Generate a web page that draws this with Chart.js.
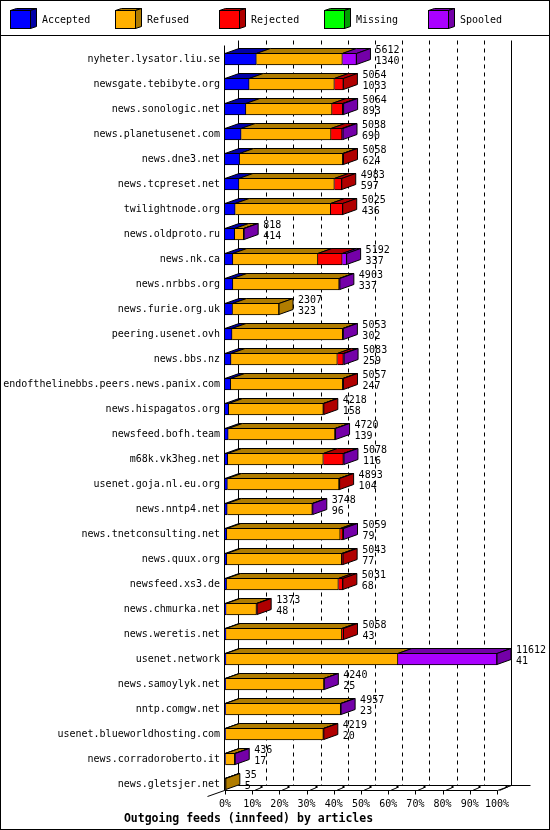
<!DOCTYPE html>
<html>
<head>
<meta charset="utf-8">
<script src="https://cdn.jsdelivr.net/npm/chart.js@4.4.0/dist/chart.umd.min.js"></script>
<style>
  html, body { margin: 0; padding: 0; background: #fff; }
</style>
</head>
<body>
<canvas id="feedChart" width="550" height="830"></canvas>
<script>
var hosts = ['nyheter.lysator.liu.se', 'newsgate.tebibyte.org', 'news.sonologic.net', 'news.planetusenet.com',
  'news.dne3.net', 'news.tcpreset.net', 'twilightnode.org', 'news.oldproto.ru', 'news.nk.ca', 'news.nrbbs.org',
  'news.furie.org.uk', 'peering.usenet.ovh', 'news.bbs.nz', 'endofthelinebbs.peers.news.panix.com',
  'news.hispagatos.org', 'newsfeed.bofh.team', 'm68k.vk3heg.net', 'usenet.goja.nl.eu.org', 'news.nntp4.net',
  'news.tnetconsulting.net', 'news.quux.org', 'newsfeed.xs3.de', 'news.chmurka.net', 'news.weretis.net',
  'usenet.network', 'news.samoylyk.net', 'nntp.comgw.net', 'usenet.blueworldhosting.com',
  'news.corradoroberto.it', 'news.gletsjer.net'];

// total offered articles (top number next to each bar)
var offered = [5612, 5054, 5064, 5038, 5058, 4983, 5025, 818, 5192, 4903, 2307, 5053, 5083, 5057, 4218,
  4720, 5078, 4893, 3748, 5059, 5043, 5031, 1373, 5058, 11612, 4240, 4957, 4219, 436, 35];

var accepted = [1340, 1033, 893, 690, 624, 597, 436, 414, 337, 337, 323, 302, 259, 247, 158,
  139, 116, 104, 96, 79, 77, 68, 48, 43, 41, 25, 23, 20, 17, 5];
var refused = [3672, 3637, 3678, 3838, 4404, 4073, 4077, 384, 3629, 4536, 1984, 4721, 4538, 4780, 4040,
  4556, 4083, 4764, 3632, 4840, 4906, 4773, 1295, 4945, 7340, 4200, 4914, 4179, 400, 30];
var rejected = [0, 384, 453, 470, 30, 313, 512, 0, 1041, 0, 0, 0, 256, 30, 20,
  0, 854, 25, 0, 115, 60, 190, 30, 70, 0, 0, 0, 20, 0, 0];
var missing = [0, 0, 0, 0, 0, 0, 0, 0, 0, 0, 0, 0, 0, 0, 0,
  0, 0, 0, 0, 0, 0, 0, 0, 0, 0, 0, 0, 0, 0, 0];
var spooled = [600, 0, 40, 40, 0, 0, 0, 20, 185, 30, 0, 30, 30, 0, 0,
  25, 25, 0, 20, 25, 0, 0, 0, 0, 4231, 15, 20, 0, 19, 0];

var tickLabels = ['0%', '10%', '20%', '30%', '40%', '50%', '60%', '70%', '80%', '90%', '100%'];
var seriesNames = ['Accepted', 'Refused', 'Rejected', 'Missing', 'Spooled'];
var frontColors = ['#0000ff', '#ffb000', '#ff0000', '#00ff00', '#aa00ff'];
var shadeColors = ['#0000a8', '#b07c00', '#b00000', '#00a000', '#7400a8'];

var series = [accepted, refused, rejected, missing, spooled];
var maxTotal = Math.max.apply(null, offered);
var DX = 14, DY = -5;
var mono = 'DejaVu Sans Mono';

function poly(c, pts, fill) {
  c.beginPath();
  c.moveTo(pts[0][0], pts[0][1]);
  for (var k = 1; k < pts.length; k++) c.lineTo(pts[k][0], pts[k][1]);
  c.closePath();
  c.fillStyle = fill;
  c.fill();
  c.stroke();
}

function line(c, x1, y1, x2, y2) {
  c.beginPath();
  c.moveTo(x1, y1);
  c.lineTo(x2, y2);
  c.stroke();
}

var frame3d = {
  id: 'frame3d',
  beforeDatasetsDraw: function(chart) {
    var c = chart.ctx, a = chart.chartArea, xs = chart.scales.x;
    var x0 = Math.round(xs.getPixelForValue(0)) - 0.5;
    var x100 = Math.round(xs.getPixelForValue(maxTotal)) + 0.5;
    var topY = Math.round(a.top) - 1.5;
    var floorY = Math.round(a.bottom - 6.5) + 0.5;
    c.save();
    c.strokeStyle = '#000';
    c.lineWidth = 1;
    // back wall edges
    line(c, x0 + DX, topY + DY, x0 + DX, floorY + DY);
    line(c, x100 + DX, topY + DY, x100 + DX, floorY + DY);
    // dashed grid on the back wall
    c.setLineDash([4, 4]);
    for (var i = 1; i < tickLabels.length - 1; i++) {
      var gx = Math.round(xs.getPixelForValue(maxTotal * i / 10)) + 0.5 + DX;
      line(c, gx, topY + DY, gx, floorY + DY);
    }
    c.setLineDash([]);
    // floor
    line(c, x0, floorY, x100, floorY);
    line(c, x0 + DX, floorY + DY, x100 + DX + 19, floorY + DY);
    line(c, x100, floorY, x100 + DX, floorY + DY);
    line(c, x0, floorY, x0 - 17, floorY + 6);
    for (i = 0; i < tickLabels.length; i++) {
      var tx = Math.round(xs.getPixelForValue(maxTotal * i / 10)) + 0.5;
      line(c, tx, floorY, tx, floorY + 4);
      if (i > 0) {
        line(c, tx + 2, floorY, tx + 9, floorY - 3);
        c.fillStyle = '#000';
        c.fillRect(tx + 8, floorY - 4.5, 2, 2);
      }
    }
    // front axis
    line(c, x0, topY, x0, floorY);
    c.restore();
  },
  afterDatasetsDraw: function(chart) {
    var c = chart.ctx;
    var metas = series.map(function(s, j) { return chart.getDatasetMeta(j); });
    c.save();
    c.strokeStyle = '#000';
    c.lineWidth = 1;
    c.lineJoin = 'miter';
    for (var i = 0; i < hosts.length; i++) {
      var last = -1, endX = null, cy = null, h = 12;
      for (var j = 0; j < series.length; j++) {
        var el = metas[j].data[i];
        var p = el.getProps(['x', 'base', 'y', 'height'], true);
        cy = p.y; h = p.height;
        if (endX === null) endX = p.base;
        if (series[j][i] <= 0) continue;
        last = j;
        endX = p.x;
        var yt = Math.round(p.y - h / 2) + 0.5;
        poly(c, [[p.base, yt], [p.x, yt], [p.x + DX, yt + DY], [p.base + DX, yt + DY]], shadeColors[j]);
      }
      if (last >= 0) {
        var yt2 = Math.round(cy - h / 2) + 0.5, yb = Math.round(cy + h / 2) - 0.5;
        poly(c, [[endX, yt2], [endX + DX, yt2 + DY], [endX + DX, yb + DY], [endX, yb]], shadeColors[last]);
      }
      c.fillStyle = '#000';
      c.font = '10px "' + mono + '"';
      c.textAlign = 'left';
      c.textBaseline = 'middle';
      c.fillText(String(offered[i]), endX + DX + 5, cy - 9);
      c.fillText(String(accepted[i]), endX + DX + 5, cy + 2);
    }
    c.restore();
  },
  afterDraw: function(chart) {
    var c = chart.ctx;
    c.save();
    c.strokeStyle = '#000';
    c.lineWidth = 1;
    c.strokeRect(0.5, 0.5, 549, 829);
    line(c, 0, 35.5, 550, 35.5);
    c.font = '10px "' + mono + '"';
    c.textAlign = 'left';
    c.textBaseline = 'middle';
    for (var j = 0; j < seriesNames.length; j++) {
      var bx = Math.round(10 + j * 104.5) + 0.5;
      var by = 10.5;
      poly(c, [[bx, by], [bx + 20, by], [bx + 26, by - 2], [bx + 6, by - 2]], shadeColors[j]);
      poly(c, [[bx + 20, by], [bx + 26, by - 2], [bx + 26, by + 16], [bx + 20, by + 18]], shadeColors[j]);
      c.fillStyle = frontColors[j];
      c.fillRect(bx, by, 20, 18);
      c.strokeRect(bx, by, 20, 18);
      c.fillStyle = '#000';
      c.fillText(seriesNames[j], bx + 31.5, 20);
    }
    c.restore();
  }
};

var ctx = document.getElementById('feedChart').getContext('2d');
var feedChart = new Chart(ctx, {
  type: 'bar',
  data: {
    labels: hosts,
    datasets: seriesNames.map(function(name, j) {
      return {
        label: name,
        data: series[j],
        backgroundColor: frontColors[j],
        borderColor: '#000',
        borderWidth: 1,
        barThickness: 12
      };
    })
  },
  options: {
    indexAxis: 'y',
    responsive: false,
    animation: false,
    layout: { padding: { top: 46.5, right: 53, bottom: 0, left: 0 } },
    scales: {
      x: {
        stacked: true,
        min: 0,
        max: maxTotal,
        grid: { display: false, drawTicks: false },
        border: { display: false },
        afterBuildTicks: function(scale) {
          scale.ticks = tickLabels.map(function(t, i) { return { value: maxTotal * i / 10 }; });
        },
        afterFit: function(scale) { scale.height = 12.7; },
        ticks: {
          autoSkip: false,
          maxRotation: 0,
          padding: 2,
          color: '#000',
          font: { family: mono, size: 10 },
          callback: function(v, i) { return tickLabels[i]; }
        }
      },
      y: {
        stacked: true,
        grid: { display: false, drawTicks: false },
        border: { display: false },
        afterFit: function(scale) { scale.width = 225; },
        ticks: {
          autoSkip: false,
          padding: 5,
          color: '#000',
          font: { family: mono, size: 10 }
        }
      }
    },
    plugins: {
      legend: { display: false },
      tooltip: { enabled: false },
      title: {
        display: true,
        position: 'bottom',
        text: 'Outgoing feeds (innfeed) by articles',
        color: '#000',
        font: { family: mono, size: 11.5, weight: 'bold' },
        padding: { top: 3, bottom: 4 }
      }
    }
  },
  plugins: [frame3d]
});
</script>
</body>
</html>
